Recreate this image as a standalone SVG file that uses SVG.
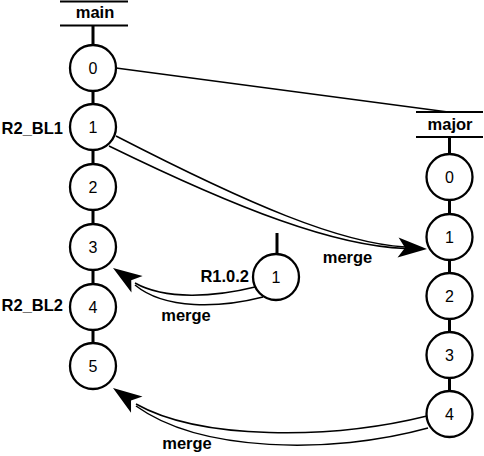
<svg xmlns="http://www.w3.org/2000/svg" width="484" height="456" viewBox="0 0 484 456">
<style>
.bg{fill:#fff}
.n circle{fill:#fff;stroke:#000;stroke-width:2.3}
.n text{font-family:"Liberation Sans",Arial,sans-serif;font-size:16px;text-anchor:middle;fill:#000}
.lbl{font-family:"Liberation Sans",Arial,sans-serif;font-size:16.5px;font-weight:bold;fill:#000}
.stem{stroke:#000;stroke-width:3;fill:none}
.hdr{stroke:#000;stroke-width:2;fill:none}
.thin{stroke:#000;stroke-width:1.5;fill:none}
.ah{fill:#000}
</style>
<defs>
<path id="arrowhead" d="M0,0 L-29,-10 L-22,0 L-29,10 Z"/>
</defs>
<rect class="bg" x="0" y="0" width="484" height="456"/>

<g id="headers">
<g id="main-header">
<line class="hdr" x1="60" y1="1.5" x2="128" y2="1.5"/>
<text class="lbl" x="95" y="18" text-anchor="middle">main</text>
<line class="hdr" x1="60" y1="25.5" x2="128" y2="25.5"/>
</g>
<g id="major-header">
<line class="hdr" x1="416" y1="112" x2="483" y2="112"/>
<text class="lbl" x="450" y="130" text-anchor="middle">major</text>
<line class="hdr" x1="416" y1="137" x2="483" y2="137"/>
</g>
</g>

<g id="stems">
<line class="stem" x1="93" y1="26" x2="93" y2="345"/>
<line class="stem" x1="449.5" y1="138" x2="449.5" y2="392"/>
<line class="stem" x1="277" y1="233" x2="277" y2="255"/>
</g>

<g id="connectors">
<line class="thin" x1="116" y1="68" x2="448" y2="112"/>
<g id="merge-main1-major1">
<path class="thin" d="M116,136 C250,205 340,243 405,247"/>
<path class="thin" d="M109,146 C240,210 335,246 405,248.5"/>
<use href="#arrowhead" class="ah" transform="translate(427,249) rotate(3)"/>
</g>
<g id="merge-r102-main3">
<path class="thin" d="M255,287 C215,297 165,300 135,283"/>
<path class="thin" d="M263,297 C220,308 165,310 135,285"/>
<use href="#arrowhead" class="ah" transform="translate(113,268) rotate(214)"/>
</g>
<g id="merge-major4-main5">
<path class="thin" d="M427,416 C330,440 200,440 136,404"/>
<path class="thin" d="M428,428 C330,455 200,452 136,406"/>
<use href="#arrowhead" class="ah" transform="translate(113,388) rotate(215)"/>
</g>
</g>

<g id="main-0" class="n"><circle cx="93" cy="68" r="23"/><text x="93" y="74">0</text></g>
<g id="main-1" class="n"><circle cx="93" cy="127" r="23"/><text x="93" y="133">1</text></g>
<g id="main-2" class="n"><circle cx="93" cy="187" r="23"/><text x="93" y="193">2</text></g>
<g id="main-3" class="n"><circle cx="93" cy="247" r="23"/><text x="93" y="253">3</text></g>
<g id="main-4" class="n"><circle cx="93" cy="307" r="23"/><text x="93" y="313">4</text></g>
<g id="main-5" class="n"><circle cx="93" cy="366" r="23"/><text x="93" y="372">5</text></g>

<g id="major-0" class="n"><circle cx="449.5" cy="177" r="23"/><text x="449.5" y="183">0</text></g>
<g id="major-1" class="n"><circle cx="449.5" cy="237" r="23"/><text x="449.5" y="243">1</text></g>
<g id="major-2" class="n"><circle cx="449.5" cy="296" r="23"/><text x="449.5" y="302">2</text></g>
<g id="major-3" class="n"><circle cx="449.5" cy="355" r="23"/><text x="449.5" y="361">3</text></g>
<g id="major-4" class="n"><circle cx="449.5" cy="414" r="23"/><text x="449.5" y="420">4</text></g>

<g id="r102-1" class="n"><circle cx="276" cy="277" r="23"/><text x="276" y="283">1</text></g>

<g id="labels">
<text class="lbl" x="63" y="134" text-anchor="end">R2_BL1</text>
<text class="lbl" x="63" y="311" text-anchor="end">R2_BL2</text>
<text class="lbl" x="249" y="282" text-anchor="end">R1.0.2</text>
<text class="lbl" x="186" y="321" text-anchor="middle">merge</text>
<text class="lbl" x="347.5" y="263" text-anchor="middle">merge</text>
<text class="lbl" x="187" y="449" text-anchor="middle">merge</text>
</g>
</svg>
